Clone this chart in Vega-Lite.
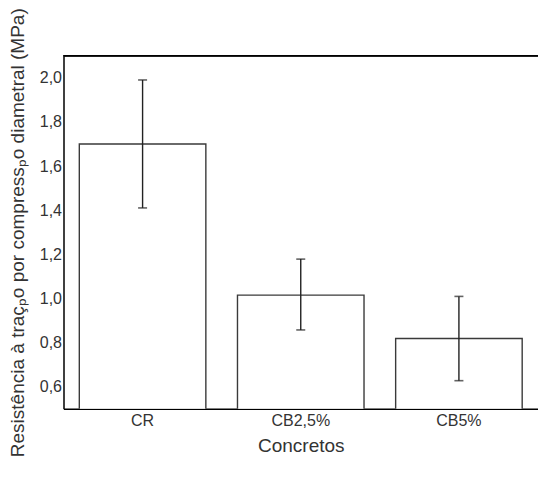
{
  "$schema": "https://vega.github.io/schema/vega-lite/v6.json",
  "autosize": "none",
  "width": 474.5,
  "height": 353,
  "padding": {"left": 63.5, "top": 55.7, "right": 0, "bottom": 68.3},
  "background": "white",
  "config": {
    "view": {"stroke": null},
    "font": "Liberation Sans"
  },
  "data": {
    "values": [
      {"concreto": "CR", "media": 1.70, "inf": 1.41, "sup": 1.99},
      {"concreto": "CB2,5%", "media": 1.015, "inf": 0.857, "sup": 1.178},
      {"concreto": "CB5%", "media": 0.818, "inf": 0.627, "sup": 1.009}
    ]
  },
  "layer": [
    {
      "mark": {"type": "bar", "fill": "white", "stroke": "#3a3a3a", "strokeWidth": 1.4, "clip": true},
      "encoding": {
        "x": {
          "field": "concreto", "type": "nominal", "sort": null,
          "scale": {"paddingInner": 0.2, "paddingOuter": 0.1},
          "axis": {
            "title": "Concretos", "labelAngle": 0, "ticks": false,
            "domainColor": "#000", "domainWidth": 1.5,
            "labelFontSize": 16, "labelColor": "#333", "labelPadding": 4,
            "titleFontSize": 19, "titleFontWeight": "normal", "titleColor": "#333", "titlePadding": 8
          }
        },
        "y": {
          "field": "media", "type": "quantitative",
          "scale": {"domain": [0.5, 2.1], "zero": false, "nice": false},
          "axis": {
            "title": "Resistência à traçₚo por compressₚo diametral (MPa)",
            "values": [0.6, 0.8, 1.0, 1.2, 1.4, 1.6, 1.8, 2.0],
            "labelExpr": "replace(format(datum.value, '.1f'), '.', ',')",
            "ticks": false, "grid": false,
            "domainColor": "#000", "domainWidth": 1.5,
            "labelFontSize": 16, "labelColor": "#333", "labelPadding": 2,
            "titleFontSize": 19, "titleFontWeight": "normal", "titleColor": "#333", "titlePadding": 12
          }
        }
      }
    },
    {
      "mark": {"type": "rule", "color": "#222", "strokeWidth": 1.4},
      "encoding": {
        "x": {"field": "concreto", "type": "nominal", "sort": null},
        "y": {"field": "inf", "type": "quantitative"},
        "y2": {"field": "sup"}
      }
    },
    {
      "mark": {"type": "tick", "color": "#222", "size": 9, "thickness": 1.6},
      "encoding": {
        "x": {"field": "concreto", "type": "nominal", "sort": null},
        "y": {"field": "inf", "type": "quantitative"}
      }
    },
    {
      "mark": {"type": "tick", "color": "#222", "size": 9, "thickness": 1.6},
      "encoding": {
        "x": {"field": "concreto", "type": "nominal", "sort": null},
        "y": {"field": "sup", "type": "quantitative"}
      }
    },
    {
      "mark": {"type": "rule", "color": "#000", "strokeWidth": 1.5},
      "encoding": {"y": {"datum": 2.1}}
    }
  ]
}
